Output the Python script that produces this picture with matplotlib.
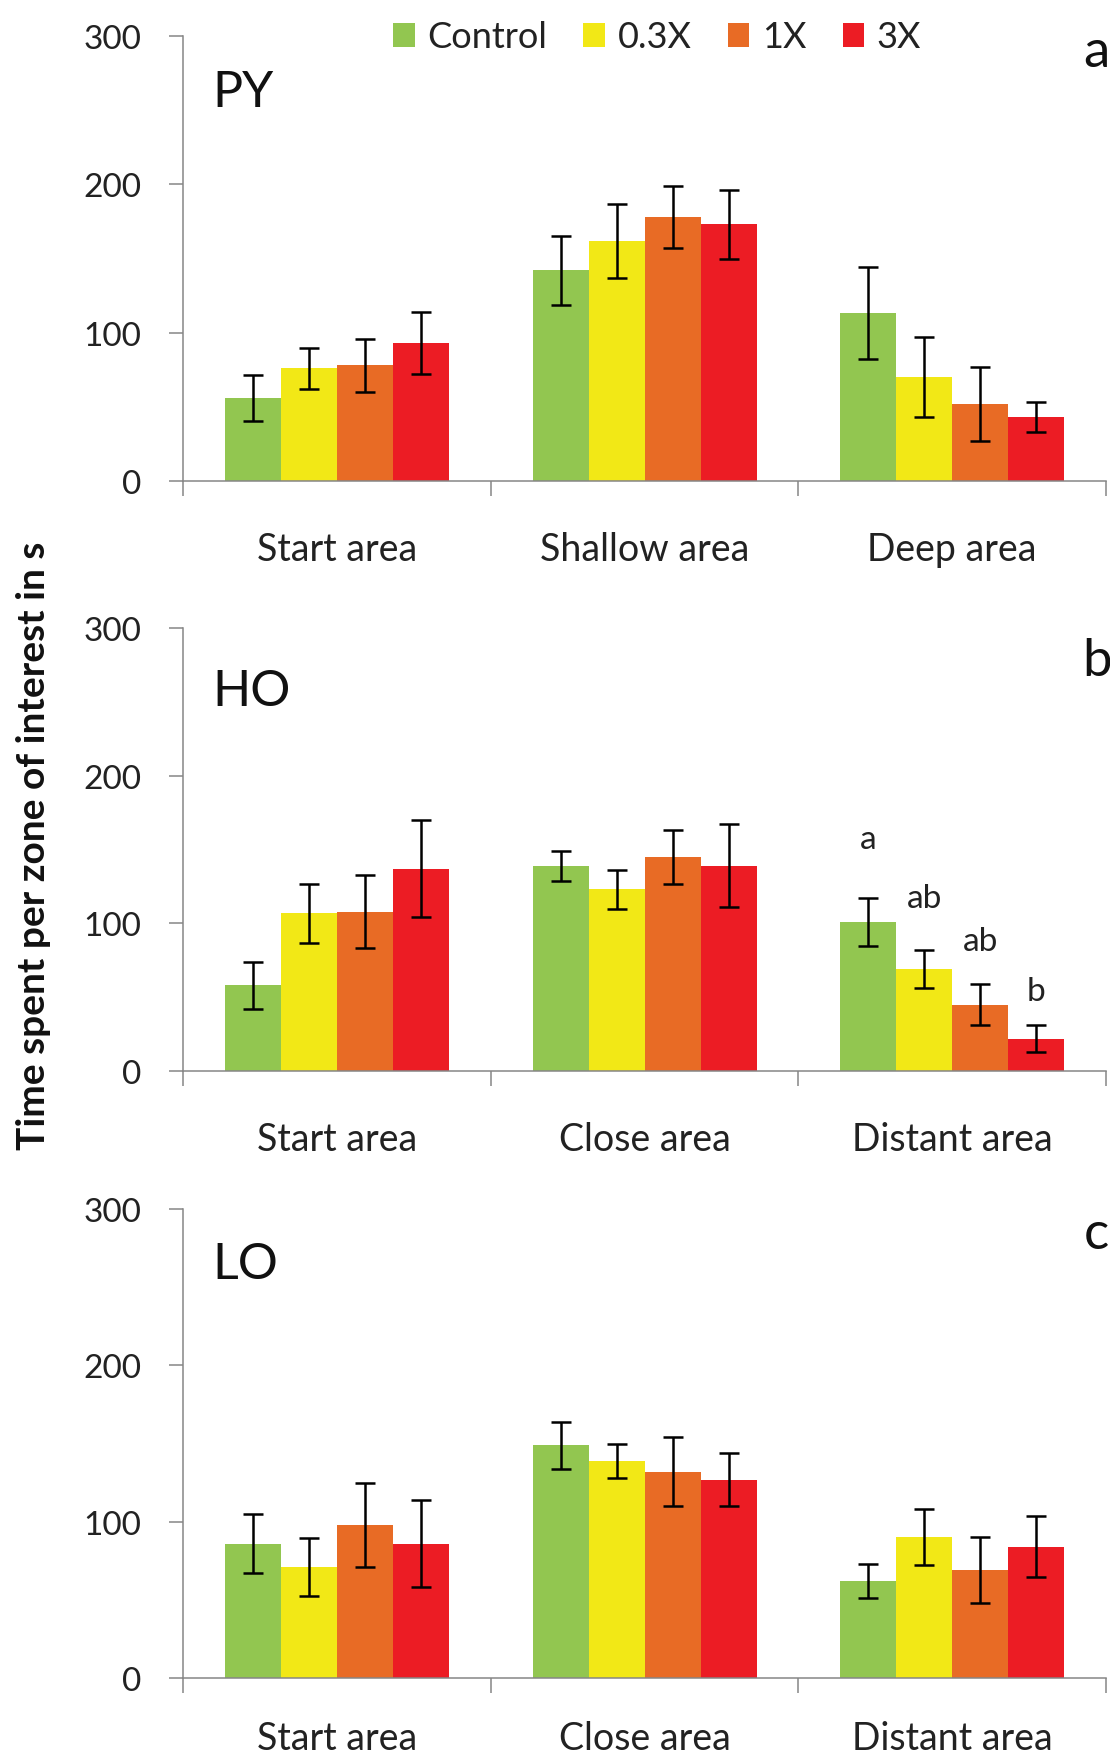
import numpy as np
import matplotlib
matplotlib.use('Agg')
import matplotlib.pyplot as plt
from matplotlib.patches import Patch

plt.rcParams['font.family'] = ['Lato', 'DejaVu Sans']

treatments = ['Control', '0.3X', '1X', '3X']
colors = ['#92C650', '#F2E816', '#E86B25', '#EC1C24']

py_areas = ['Start area', 'Shallow area', 'Deep area']
ho_areas = ['Start area', 'Close area', 'Distant area']
lo_areas = ['Start area', 'Close area', 'Distant area']

# rows = treatment, columns = area
py_mean = [[56, 142, 113], [76, 162, 70], [78, 178, 52], [93, 173, 43]]
py_err = [[15.5, 23, 31], [14, 25, 27], [18, 21, 25], [21, 23, 10]]

ho_mean = [[58, 139, 101], [107, 123, 69], [108, 145, 45], [137, 139, 22]]
ho_err = [[16, 10, 16], [20, 13, 13], [25, 18, 14], [33, 28, 9]]

lo_mean = [[86, 149, 62], [71, 139, 90], [98, 132, 69], [86, 127, 84]]
lo_err = [[19, 15, 11], [18.5, 11, 18], [27, 22, 21], [28, 17, 19.5]]

ho_letters = ['a', 'ab', 'ab', 'b']
ho_letter_y = [151, 111, 82, 48]

panels = [
    ('PY', 'a', py_areas, py_mean, py_err, 253, 280),
    ('HO', 'b', ho_areas, ho_mean, ho_err, 248, 268),
    ('LO', 'c', lo_areas, lo_mean, lo_err, 256, 275),
]
boxes = [[0.1649, 0.7269, 0.8315, 0.2521],
         [0.1649, 0.3926, 0.8315, 0.2510],
         [0.1649, 0.0487, 0.8315, 0.2657]]
label_pads = [36, 36, 30]

fig = plt.figure(figsize=(11.1, 17.65), dpi=100)
w = 0.182
axis_col = '#868686'

for k, (name, letter, areas, means, errs, name_y, letter_y) in enumerate(panels):
    ax = fig.add_axes(boxes[k])
    x = np.arange(len(areas))
    for j in range(4):
        ax.bar(x + (j - 1.5) * w, means[j], w, color=colors[j],
               yerr=errs[j], capsize=7,
               error_kw=dict(elinewidth=1.8, capthick=1.8, ecolor='black'))
    ax.set_xlim(-0.5, 2.5)
    ax.set_ylim(0, 300)
    ax.set_yticks([0, 100, 200, 300])
    ax.tick_params(axis='y', direction='out', length=10, width=1.1,
                   color=axis_col, labelsize=24, pad=20, labelcolor='#222222')
    ax.set_xticks(x)
    ax.set_xticklabels(areas)
    ax.tick_params(axis='x', which='major', length=0, labelsize=27,
                   pad=label_pads[k], labelcolor='#222222')
    ax.set_xticks([-0.5, 0.5, 1.5, 2.5], minor=True)
    ax.tick_params(axis='x', which='minor', direction='out', length=11,
                   width=1.1, color=axis_col)
    for s in ['top', 'right']:
        ax.spines[s].set_visible(False)
    for s in ['left', 'bottom']:
        ax.spines[s].set_color(axis_col)
        ax.spines[s].set_linewidth(1.1)
    ax.text(-0.406, name_y, name, fontsize=36, ha='left', va='baseline',
            color='#111111')
    ax.text(2.47, letter_y, letter, fontsize=38, ha='center', va='baseline',
            color='#111111', clip_on=False)
    if name == 'HO':
        for j in range(4):
            ax.text(2 + (j - 1.5) * w, ho_letter_y[j], ho_letters[j],
                    fontsize=24, ha='center', va='baseline', color='#222222')

handles = [Patch(facecolor=c, edgecolor='none') for c in colors]
fig.legend(handles, treatments, loc='center', bbox_to_anchor=(0.592, 0.9785),
           ncol=4, frameon=False, fontsize=26, handlelength=0.6,
           handleheight=0.65, handletextpad=0.35, columnspacing=1.0,
           labelcolor='#222222')

fig.text(0.030, 0.5207, 'Time spent per zone of interest in s', rotation=90,
         fontsize=28, fontweight='bold', ha='center', va='center',
         color='#111111')

plt.savefig('out.png', dpi=100)
